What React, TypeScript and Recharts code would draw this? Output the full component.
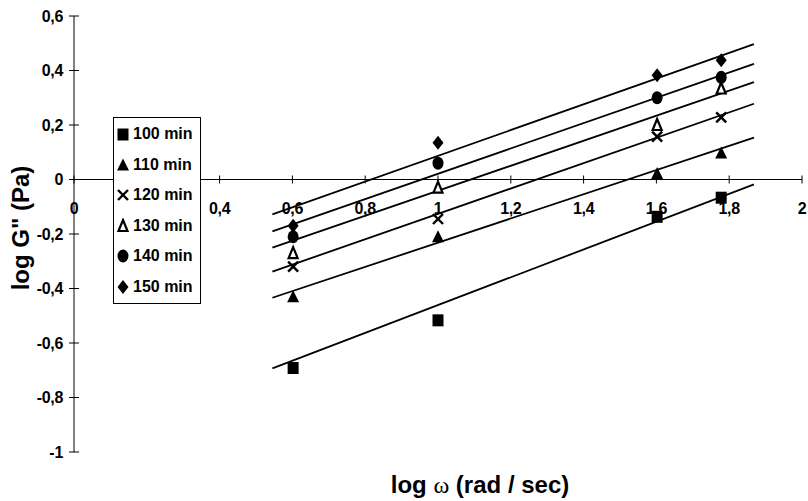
import React from 'react';
import { ScatterChart, Scatter, XAxis, YAxis, ReferenceLine, Legend } from 'recharts';

// log omega values where G'' was measured
const omega = [0.602, 1, 1.602, 1.778];

const seriesNames = ['100 min', '110 min', '120 min', '130 min', '140 min', '150 min'];
const markerKinds = ['square', 'triangle', 'cross', 'openTriangle', 'circle', 'diamond'];

// log G'' per curing time
const g100 = [-0.69, -0.515, -0.135, -0.065];
const g110 = [-0.43, -0.21, 0.022, 0.097];
const g120 = [-0.32, -0.145, 0.157, 0.228];
const g130 = [-0.27, -0.03, 0.2, 0.334];
const g140 = [-0.21, 0.06, 0.3, 0.375];
const g150 = [-0.17, 0.135, 0.383, 0.438];

// trend line ends
const fitOmega = [0.545, 1.868];
const fit100 = [-0.693, -0.018];
const fit110 = [-0.434, 0.154];
const fit120 = [-0.338, 0.278];
const fit130 = [-0.25, 0.357];
const fit140 = [-0.19, 0.424];
const fit150 = [-0.128, 0.497];

const xTicks = [0, 0.2, 0.4, 0.6, 0.8, 1, 1.2, 1.4, 1.6, 1.8, 2];
// the 0,2 label sits under the legend box in the original
const xTickLabels = ['0', '', '0,4', '0,6', '0,8', '1', '1,2', '1,4', '1,6', '1,8', '2'];
const yTicks = [-1, -0.8, -0.6, -0.4, -0.2, 0, 0.2, 0.4, 0.6];

const values = [g100, g110, g120, g130, g140, g150];
const fits = [fit100, fit110, fit120, fit130, fit140, fit150];

const toPoints = (xs: number[], ys: number[]) => xs.map((x, i) => ({ x, y: ys[i] }));
const fmt = (v: number) => String(Number(v.toFixed(1))).replace('.', ',');

const FONT = '"Liberation Sans", Arial, sans-serif';

const Marker = ({ kind, cx, cy }: { kind: string; cx: number; cy: number }) => {
  switch (kind) {
    case 'square':
      return <rect x={cx - 5.5} y={cy - 5.5} width={11} height={12} fill="#000" />;
    case 'triangle':
      return <polygon points={`${cx},${cy - 6.5} ${cx + 6},${cy + 5.5} ${cx - 6},${cy + 5.5}`} fill="#000" />;
    case 'cross':
      return (
        <g stroke="#000" strokeWidth={2.4}>
          <line x1={cx - 5} y1={cy - 5} x2={cx + 5} y2={cy + 5} />
          <line x1={cx - 5} y1={cy + 5} x2={cx + 5} y2={cy - 5} />
        </g>
      );
    case 'openTriangle':
      return (
        <polygon
          points={`${cx},${cy - 6} ${cx + 4.5},${cy + 5} ${cx - 4.5},${cy + 5}`}
          fill="#fff"
          stroke="#000"
          strokeWidth={2.2}
        />
      );
    case 'circle':
      return <ellipse cx={cx} cy={cy} rx={5.5} ry={6.5} fill="#000" />;
    case 'diamond':
      return <polygon points={`${cx},${cy - 7} ${cx + 5.5},${cy} ${cx},${cy + 7} ${cx - 5.5},${cy}`} fill="#000" />;
    default:
      return <g />;
  }
};

const YTick = (props: any) => {
  const { x, y, payload } = props;
  const axisX = x + 5 + 6;
  return (
    <g>
      <line x1={axisX} y1={y} x2={axisX + 5} y2={y} stroke="#000" />
      <text x={x} y={y} dy="0.35em" textAnchor="end" fontSize={16} fontWeight="bold" fontFamily={FONT} fill="#000" letterSpacing={-0.3}>
        {fmt(payload.value)}
      </text>
    </g>
  );
};

// tick marks + labels for the x axis drawn through y = 0
const XTickMark = (props: any) => {
  const { cx, cy, index } = props;
  const label = xTickLabels[index];
  return (
    <g>
      <line x1={cx} y1={cy - 4} x2={cx} y2={cy + 4} stroke="#000" />
      {label ? (
        <text x={cx} y={cy + 29} dy="0.35em" textAnchor="middle" fontSize={16} fontWeight="bold" fontFamily={FONT} fill="#000" letterSpacing={-0.3}>
          {label}
        </text>
      ) : null}
    </g>
  );
};

const XTitle = (props: any) => {
  const { viewBox } = props;
  return (
    <text
      x={viewBox.x + viewBox.width / 2 + 42}
      y={viewBox.y + 33}
      dy="0.35em"
      textAnchor="middle"
      fontSize={24}
      fontWeight="bold"
      fontFamily={FONT}
      fill="#000"
    >
      log <tspan fontFamily='"Liberation Serif", serif' fontWeight="normal">ω</tspan> (rad / sec)
    </text>
  );
};

const YTitle = (props: any) => {
  const { viewBox } = props;
  const x = viewBox.x + 21;
  const y = viewBox.y + viewBox.height / 2 - 6;
  return (
    <text
      x={x}
      y={y}
      dy="0.35em"
      transform={`rotate(-90, ${x}, ${y})`}
      textAnchor="middle"
      fontSize={24}
      fontWeight="bold"
      fontFamily={FONT}
      fill="#000"
    >
      log G" (Pa)
    </text>
  );
};

const LegendBox = () => (
  <div
    style={{
      width: 86,
      height: 184,
      border: '1px solid #000',
      background: '#fff',
      paddingTop: 1,
      fontFamily: FONT,
      fontWeight: 'bold',
      fontSize: 16,
      color: '#000',
    }}
  >
    {seriesNames.map((name, i) => (
      <div key={name} style={{ height: 30.5, display: 'flex', alignItems: 'center' }}>
        <svg width={16} height={16} style={{ marginLeft: 1 }}>
          <Marker kind={markerKinds[i]} cx={8} cy={8} />
        </svg>
        <span style={{ marginLeft: 2, whiteSpace: 'nowrap' }}>{name}</span>
      </div>
    ))}
  </div>
);

export default function App() {
  return (
    <div style={{ position: 'absolute', left: 0, top: 0, background: '#fff' }}>
      <ScatterChart width={808} height={501} margin={{ top: 16, right: 6, bottom: 0, left: 0 }}>
        <XAxis
          type="number"
          dataKey="x"
          domain={[0, 2]}
          ticks={xTicks}
          axisLine={false}
          tickLine={false}
          tick={false}
          height={49}
          label={{ content: (p: any) => <XTitle {...p} /> }}
        />
        <YAxis
          type="number"
          dataKey="y"
          domain={[-1, 0.6]}
          ticks={yTicks}
          width={74}
          axisLine={{ stroke: '#000' }}
          tickLine={{ stroke: '#000' }}
          tickSize={5}
          tickMargin={6}
          tick={<YTick />}
          label={{ content: (p: any) => <YTitle {...p} /> }}
        />
        <ReferenceLine y={0} stroke="#000" />
        <Scatter
          data={xTicks.map((x) => ({ x, y: 0 }))}
          shape={(p: any) => <XTickMark {...p} />}
          isAnimationActive={false}
          legendType="none"
        />
        {fits.map((f, i) => (
          <Scatter
            key={`fit-${i}`}
            data={toPoints(fitOmega, f)}
            line={{ stroke: '#000', strokeWidth: 1.8 }}
            shape={() => <g />}
            isAnimationActive={false}
            legendType="none"
          />
        ))}
        {values.map((v, i) => (
          <Scatter
            key={seriesNames[i]}
            name={seriesNames[i]}
            data={toPoints(omega, v)}
            shape={(p: any) => <Marker kind={markerKinds[i]} cx={p.cx} cy={p.cy} />}
            isAnimationActive={false}
          />
        ))}
        <Legend
          layout="vertical"
          align="center"
          verticalAlign="middle"
          wrapperStyle={{ left: 113, top: 117, width: 88 }}
          content={() => <LegendBox />}
        />
      </ScatterChart>
    </div>
  );
}
